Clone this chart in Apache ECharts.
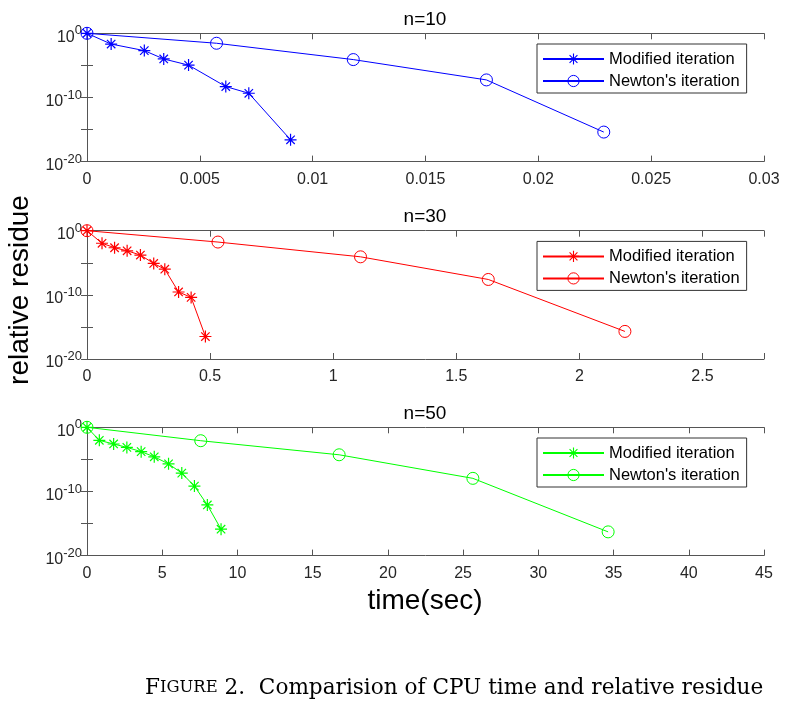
<!DOCTYPE html>
<html>
<head>
<meta charset="utf-8">
<script src="https://cdn.jsdelivr.net/npm/echarts@6/dist/echarts.min.js"></script>
<style>html,body{margin:0;padding:0;background:#fff}#c{width:800px;height:703px}</style>
</head>
<body>
<div id="c"></div>
<script>
// ---- data ----
const t10Mod = [0, 0.00107, 0.00254, 0.0034, 0.0045, 0.00615, 0.00717, 0.00902];
const r10Mod = [1, 2.1e-2, 2e-3, 1e-4, 1.1e-5, 5e-9, 4.5e-10, 2.5e-17];
const t10New = [0, 0.00574, 0.0118, 0.0177, 0.0229];
const r10New = [1, 2.8e-2, 8e-5, 5.4e-8, 4e-16];

const t30Mod = [0, 0.061, 0.112, 0.163, 0.217, 0.271, 0.316, 0.372, 0.423, 0.481];
const r30Mod = [1, 1.1e-2, 2.2e-3, 7.4e-4, 1.6e-4, 7.9e-6, 1e-6, 2.8e-10, 4e-11, 3.2e-17];
const t30New = [0, 0.532, 1.111, 1.63, 2.185];
const r30New = [1, 1.7e-2, 8.5e-5, 2.5e-8, 2e-16];

const t50Mod = [0, 0.82, 1.77, 2.65, 3.6, 4.47, 5.42, 6.3, 7.14, 8.0, 8.91];
const r50Mod = [1, 9.3e-3, 2.5e-3, 7.4e-4, 1.6e-4, 2.5e-5, 2e-6, 7.2e-8, 6.8e-10, 7.9e-13, 1.3e-16];
const t50New = [0, 7.56, 16.76, 25.65, 34.64];
const r50New = [1, 8.1e-3, 5.2e-5, 1.1e-8, 5e-17];

const panelTitles = ['n=10', 'n=30', 'n=50'];
const seriesNames = ['Modified iteration', "Newton's iteration"];
const xMax = [0.03, 2.75, 45];
const xInterval = [0.005, 0.5, 5];
const xLabelMax = [0.03, 2.5, 45];
const yMin = 1e-20, yMax = 1;

// ---- styling ----
const colors = ['#0000ff', '#ff0000', '#00ff00'];
const gridTops = [33.3, 230.7, 427.3];
const gridH = 128.3;
const gridLeft = 87, gridW = 677;
const axisColor = '#555';
const labelColor = '#262626';
const FONT = '"Liberation Sans", Arial, sans-serif';
const STAR = 'path://M45 0L55 0L55 100L45 100Z M0 45L100 45L100 55L0 55Z ' +
  'M18.5 11.4L88.6 81.5L81.5 88.6L11.4 18.5Z M81.5 11.4L88.6 18.5L18.5 88.6L11.4 81.5Z';

const panels = [
  [t10Mod, r10Mod, t10New, r10New],
  [t30Mod, r30Mod, t30New, r30New],
  [t50Mod, r50Mod, t50New, r50New]
];

const grid = [], xAxis = [], yAxis = [], series = [], legend = [], graphic = [];

panels.forEach((p, i) => {
  grid.push({left: gridLeft, top: gridTops[i], width: gridW, height: gridH, containLabel: false});
  const common = {
    type: 'value', gridIndex: i, min: 0, max: xMax[i], interval: xInterval[i],
    axisLine: {show: true, lineStyle: {color: axisColor, width: 1}},
    axisTick: {show: true, inside: true, length: 6, lineStyle: {color: axisColor}},
    splitLine: {show: false}
  };
  xAxis.push(Object.assign({}, common, {
    position: 'bottom',
    axisLabel: {
      show: true, color: labelColor, fontFamily: FONT, fontSize: 16, margin: 10,
      showMaxLabel: true,
      formatter: v => (v > xLabelMax[i] + 1e-9 ? '' : String(+v.toFixed(4)))
    }
  }));
  xAxis.push(Object.assign({}, common, {position: 'top', axisLabel: {show: false}}));
  const ycommon = {
    type: 'log', logBase: 10, gridIndex: i, min: yMin, max: yMax, interval: 5,
    axisLine: {show: true, lineStyle: {color: axisColor, width: 1}},
    axisTick: {show: true, inside: true, length: 6, lineStyle: {color: axisColor}},
    splitLine: {show: false}
  };
  yAxis.push(Object.assign({}, ycommon, {
    position: 'left',
    axisLabel: {
      show: true, color: labelColor, fontFamily: FONT, fontSize: 16, margin: 5,
      padding: [8, 0, 0, 0],
      formatter: v => {
        const e = Math.round(Math.log10(v));
        if (e % 10 !== 0) return '';
        return '{b|10}{s|' + e + '}';
      },
      rich: {
        b: {fontSize: 16, fontFamily: FONT, color: labelColor, lineHeight: 26},
        s: {fontSize: 13, fontFamily: FONT, color: labelColor, lineHeight: 13, verticalAlign: 'top'}
      }
    }
  }));
  yAxis.push(Object.assign({}, ycommon, {position: 'right', axisLabel: {show: false}}));

  const c = colors[i];
  const tag = ' (' + panelTitles[i] + ')';
  series.push({
    name: seriesNames[0] + tag, type: 'line', xAxisIndex: 2 * i, yAxisIndex: 2 * i,
    data: p[0].map((t, k) => [t, p[1][k]]),
    symbol: STAR, symbolSize: 12, clip: false,
    lineStyle: {color: c, width: 1}, itemStyle: {color: c, borderWidth: 0},
    emphasis: {disabled: true}, animation: false
  });
  series.push({
    name: seriesNames[1] + tag, type: 'line', xAxisIndex: 2 * i, yAxisIndex: 2 * i,
    data: p[2].map((t, k) => [t, p[3][k]]),
    symbol: 'circle', symbolSize: 12, clip: false,
    lineStyle: {color: c, width: 1},
    itemStyle: {color: 'rgba(255,255,255,0)', borderColor: c, borderWidth: 1},
    emphasis: {disabled: true}, animation: false
  });
  legend.push({
    data: [
      {name: seriesNames[0] + tag, itemStyle: {borderWidth: 0}},
      {name: seriesNames[1] + tag, itemStyle: {color: 'rgba(255,255,255,0)', borderColor: c, borderWidth: 1}}
    ],
    formatter: name => name.replace(/ \(n=\d+\)$/, ''),
    orient: 'vertical', left: 537, top: gridTops[i] + 10.7,
    itemWidth: 61, itemHeight: 14, itemGap: 4,
    padding: [6, 7, 3, 5],
    borderColor: '#333', borderWidth: 1, borderRadius: 0,
    backgroundColor: '#fff',
    textStyle: {fontFamily: FONT, fontSize: 16.5, color: '#000', lineHeight: 18},
    selectedMode: false
  });
  graphic.push({
    type: 'text', x: 425, y: gridTops[i] - 13.5,
    style: {text: panelTitles[i], font: '19px ' + FONT, fill: '#000',
      align: 'center', verticalAlign: 'middle', textAlign: 'center', textVerticalAlign: 'middle'}
  });
});

graphic.push({
  type: 'text', x: 20, y: 290, rotation: Math.PI / 2,
  style: {text: 'relative residue', font: '28px ' + FONT, fill: '#000',
    align: 'center', verticalAlign: 'middle', textAlign: 'center', textVerticalAlign: 'middle'}
});
graphic.push({
  type: 'text', x: 425, y: 601,
  style: {text: 'time(sec)', font: '28px ' + FONT, fill: '#000',
    align: 'center', verticalAlign: 'middle', textAlign: 'center', textVerticalAlign: 'middle'}
});
const SERIF = '"DejaVu Serif", serif';
graphic.push({
  type: 'text', x: 145, y: 688,
  style: {
    text: '{a|F}{b|IGURE}{c| 2.  Comparision of CPU time and relative residue}',
    rich: {
      a: {fontFamily: SERIF, fontSize: 21.6, fill: '#000', color: '#000'},
      b: {fontFamily: SERIF, fontSize: 16.4, fill: '#000', color: '#000'},
      c: {fontFamily: SERIF, fontSize: 21.6, fill: '#000', color: '#000'}
    },
    align: 'left', verticalAlign: 'middle', textAlign: 'left', textVerticalAlign: 'middle'
  }
});

const chart = echarts.init(document.getElementById('c'), null, {renderer: 'canvas'});
chart.setOption({
  animation: false,
  backgroundColor: '#fff',
  grid, xAxis, yAxis, series, legend, graphic
});
</script>
</body>
</html>
